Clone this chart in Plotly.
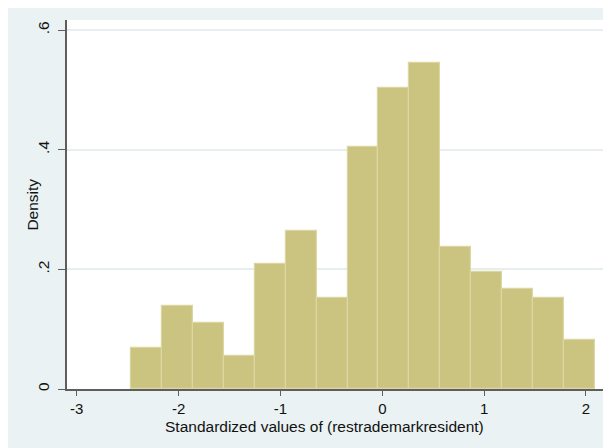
import plotly.graph_objects as go

# Data (density scale)
bin_start = -2.467
bin_width = 0.3037
densities = [0.0685, 0.139, 0.110, 0.055, 0.209, 0.2645, 0.152, 0.405,
             0.503, 0.545, 0.237, 0.1955, 0.1676, 0.1525, 0.0819]
x_tick_vals = [-3, -2, -1, 0, 1, 2]
x_tick_text = ["-3", "-2", "-1", "0", "1", "2"]
y_tick_vals = [0, 0.2, 0.4, 0.6]
y_tick_text = ["0", ".2", ".4", ".6"]
x_title = "Standardized values of (restrademarkresident)"
y_title = "Density"

centers = [bin_start + bin_width * (i + 0.5) for i in range(len(densities))]

FONT = "Liberation Sans, Arial, Helvetica, sans-serif"
BG = "#EAF2F3"
AXIS = "#5E5E5E"
TXT = "#111111"

fig = go.Figure()
fig.add_trace(go.Bar(
    x=centers, y=densities, width=[bin_width] * len(densities),
    marker=dict(color="#CBC380", line=dict(color="#DCD6A2", width=1.2)),
    hoverinfo="x+y", showlegend=False,
))

fig.update_layout(
    width=603, height=440,
    margin=dict(l=59, r=7, t=12, b=59),
    paper_bgcolor=BG, plot_bgcolor="white",
    font=dict(family=FONT, size=15.5, color=TXT),
    bargap=0,
    xaxis=dict(
        range=[-3.096, 2.177], tickvals=x_tick_vals, ticktext=x_tick_text,
        ticks="outside", ticklen=5, tickwidth=1.2, tickcolor=AXIS,
        showline=True, linecolor=AXIS, linewidth=1.5,
        showgrid=False, zeroline=False,
        tickfont=dict(size=15),
    ),
    yaxis=dict(
        range=[0, 0.617], tickvals=y_tick_vals, ticktext=y_tick_text,
        tickangle=-90, ticklabelstandoff=3,
        ticks="outside", ticklen=7, tickwidth=1.2, tickcolor=AXIS,
        showline=True, linecolor=AXIS, linewidth=1.5,
        showgrid=True, gridcolor="#E6EEEF", gridwidth=2,
        zeroline=False,
        tickfont=dict(size=15.5),
    ),
    annotations=[
        dict(text=x_title, xref="paper", yref="paper", x=0.480, y=-0.102,
             xanchor="center", yanchor="middle", showarrow=False,
             font=dict(size=15.5, color=TXT)),
        dict(text=y_title, xref="paper", yref="paper", x=-0.065, y=0.5,
             xanchor="center", yanchor="middle", showarrow=False,
             textangle=-90, font=dict(size=15.5, color=TXT)),
    ],
)

fig.write_html("out.html")
